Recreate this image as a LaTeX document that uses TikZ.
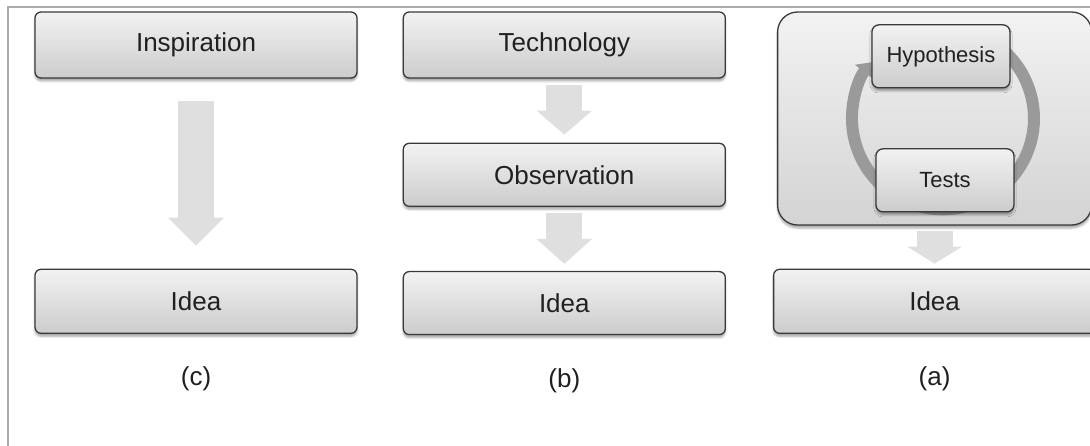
\documentclass[tikz,border=0pt]{standalone}
\usepackage{fontspec}
\setmainfont{Liberation Sans}
\usepackage{tikz}
\usetikzlibrary{arrows.meta, positioning, calc, shadows.blur}
\definecolor{framegray}{HTML}{ABABAB}
\definecolor{boxedge}{HTML}{3A3A3A}
\definecolor{arrowfill}{HTML}{DFDFDF}
\definecolor{ringcol}{HTML}{9A9A9A}
\definecolor{textcol}{HTML}{202020}

\begin{document}
\begin{tikzpicture}[
   x=1pt, y=1pt, node distance = 64pt and 45pt,
   font=\fontsize{26}{30}\selectfont, text=textcol,
   stage/.style = {rectangle, rounded corners=6pt, draw=boxedge, line width=1.3pt,
                   top color=black!5, bottom color=black!20,
                   minimum width=322pt, minimum height=64pt, inner sep=0pt,
                   blur shadow={shadow xshift=0pt, shadow yshift=-3pt, shadow opacity=35}},
   loopbox/.style = {stage, rounded corners=20pt, minimum width=314pt, minimum height=213pt,
                   top color=black!5, bottom color=black!17},
   cyclebox/.style = {stage, rounded corners=7pt, minimum width=138pt, minimum height=63pt,
                   font=\fontsize{22}{26}\selectfont},
   caption/.style = {inner sep=0pt},
   blockarrow/.style = {line width=36pt, draw=arrowfill, -{Triangle[width=54pt, length=#1]}},
   blockarrow/.default = 26pt,
   ring/.style = {line width=12pt, draw=ringcol, -{Triangle[width=22pt, length=12pt]}}]
  \clip (0,0) rectangle (1090,-446);
  \draw[framegray, line width=1.2pt] (8,-460) |- (1100,-7);

  % (c)
  \node[stage, minimum height=66pt] (insp) at (196,-45) {Inspiration};
  \node[stage, below=190pt of insp] (ideac) {Idea};
  \node[caption, below=33pt of ideac] (capc) {(c)};

  % (b)
  \node[stage, minimum height=66pt, right=of insp] (tech) {Technology};
  \node[stage, minimum height=63pt, below=of tech] (obs) {Observation};
  \node[stage, minimum height=63pt, below=of obs] (ideab) {Idea};
  \node[caption, below=33pt of ideab] (capb) {(b)};

  % (a)
  \node[loopbox, anchor=north west] (loop) at ([xshift=51pt]tech.north east) {};
  \coordinate (hub) at ([shift={(166,-107)}]loop.north west);
  \draw[ring] ([shift={(420:91pt)}]hub) arc[start angle=420, end angle=142, radius=91pt];
  \node[cyclebox] (hyp) at ([shift={(-2,62)}]hub) {Hypothesis};
  \node[cyclebox] (tests) at ([shift={(2,-62)}]hub) {Tests};
  \node[stage, below=43pt of loop] (ideaa) {Idea};
  \node[caption, below=33pt of ideaa] (capa) {(a)};

  \draw[blockarrow=28pt, shorten <=22pt, shorten >=23pt] (insp) -- (ideac);
  \draw[blockarrow=24pt, shorten <=6pt, shorten >=8pt] (tech) -- (obs);
  \draw[blockarrow=25pt, shorten <=6pt, shorten >=7pt] (obs) -- (ideab);
  \draw[blockarrow=17pt, shorten <=5pt, shorten >=5pt] (loop) -- (ideaa);
\end{tikzpicture}
\end{document}
